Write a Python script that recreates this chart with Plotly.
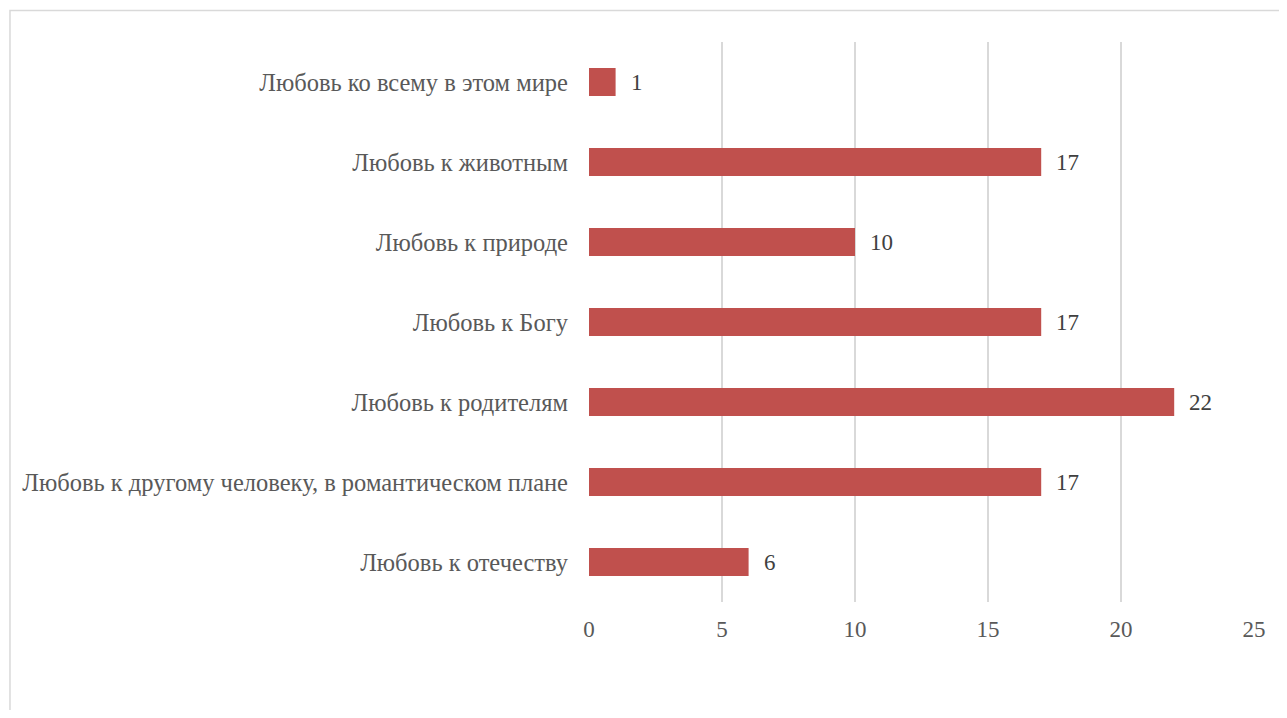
import plotly.graph_objects as go

# categories listed top to bottom, as in the reference
categories = [
    'Любовь ко всему в этом мире',
    'Любовь к животным',
    'Любовь к природе',
    'Любовь к Богу',
    'Любовь к родителям',
    'Любовь к другому человеку, в романтическом плане',
    'Любовь к отечеству',
]
values = [1, 17, 10, 17, 22, 17, 6]
x_ticks = [0, 5, 10, 15, 20, 25]

BAR_COLOR = '#C0504D'
FONT = 'Liberation Serif, Times New Roman, serif'

fig = go.Figure()
fig.add_trace(
    go.Bar(
        x=values,
        y=categories,
        orientation='h',
        marker=dict(color=BAR_COLOR, line=dict(width=0)),
        width=0.35,
        hoverinfo='x+y',
    )
)

# value labels just right of each bar
for cat, v in zip(categories, values):
    fig.add_annotation(
        x=v, y=cat, text=str(v), showarrow=False,
        xanchor='left', xshift=13,
        font=dict(family=FONT, size=23, color='#404040'),
    )

# light frame around the chart area (as in the source image)
fig.add_shape(
    type='rect', xref='paper', yref='paper',
    x0=-0.8707, x1=1.08, y0=-0.25, y1=1.0563,
    line=dict(color='#D9D9D9', width=1.5), layer='below',
)

fig.update_xaxes(
    range=[0, 25],
    tickvals=x_ticks,
    showgrid=True,
    gridcolor='#D9D9D9',
    gridwidth=1.5,
    zeroline=False,
    showline=False,
    ticks='',
    ticklabelstandoff=11,
    tickfont=dict(family=FONT, size=23, color='#595959'),
)
fig.update_yaxes(
    autorange='reversed',
    showgrid=False,
    zeroline=False,
    showline=False,
    ticks='',
    ticklabelstandoff=20,
    tickfont=dict(family=FONT, size=24.5, color='#595959'),
)

fig.update_layout(
    width=1271,
    height=702,
    paper_bgcolor='white',
    plot_bgcolor='white',
    showlegend=False,
    bargap=0.65,
    margin=dict(l=581, r=25, t=34, b=108, autoexpand=False),
    font=dict(family=FONT, color='#595959'),
)

fig.write_html('out.html')
